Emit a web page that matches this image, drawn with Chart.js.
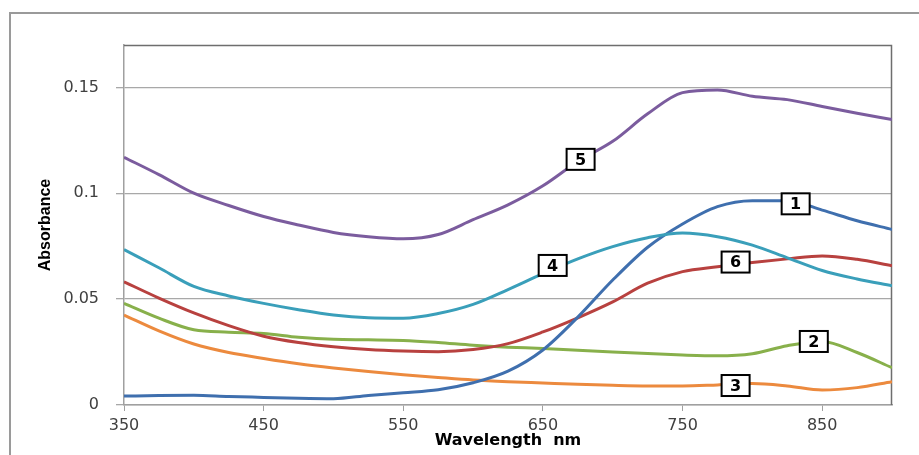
<!DOCTYPE html>
<html>
<head>
<meta charset="utf-8">
<script src="https://cdn.jsdelivr.net/npm/chart.js@4/dist/chart.umd.min.js"></script>
<style>
  html, body { margin: 0; padding: 0; background: #ffffff; }
  #wrap { width: 919px; height: 455px; position: relative; }
</style>
</head>
<body>
<div id="wrap"><canvas id="c" width="919" height="455"></canvas></div>
<script>
// ---- data ----
const wavelengths = [350,375,400,425,450,475,500,525,550,575,600,625,650,675,700,725,750,775,800,825,850,875,900];
const series1 = [0.0042,0.0045,0.0046,0.0040,0.0036,0.0032,0.0030,0.0045,0.0058,0.0072,0.0105,0.0160,0.0260,0.0415,0.0590,0.0745,0.0855,0.0937,0.0965,0.0965,0.0920,0.0870,0.0829];
const series2 = [0.0480,0.0410,0.0355,0.0344,0.0338,0.0320,0.0310,0.0308,0.0305,0.0295,0.0282,0.0273,0.0267,0.0258,0.0250,0.0243,0.0236,0.0232,0.0242,0.0280,0.0300,0.0248,0.0176];
const series3 = [0.0425,0.0350,0.0288,0.0248,0.0220,0.0195,0.0175,0.0158,0.0143,0.0130,0.0118,0.0110,0.0104,0.0098,0.0093,0.0090,0.0090,0.0095,0.0101,0.0090,0.0071,0.0082,0.0110];
const series4 = [0.0734,0.0648,0.0560,0.0515,0.0480,0.0450,0.0425,0.0412,0.0410,0.0432,0.0475,0.0545,0.0620,0.0690,0.0748,0.0790,0.0812,0.0795,0.0755,0.0695,0.0635,0.0595,0.0563];
const series5 = [0.1170,0.1088,0.1000,0.0942,0.0890,0.0850,0.0815,0.0795,0.0785,0.0805,0.0875,0.0945,0.1035,0.1150,0.1245,0.1375,0.1475,0.1488,0.1458,0.1442,0.1410,0.1378,0.1348];
const series6 = [0.0582,0.0505,0.0435,0.0375,0.0325,0.0295,0.0275,0.0262,0.0255,0.0252,0.0262,0.0290,0.0345,0.0412,0.0487,0.0575,0.0630,0.0653,0.0673,0.0690,0.0704,0.0688,0.0658];
const seriesNames = ["1","2","3","4","5","6"];
const xTickValues = [350,450,550,650,750,850];
const xTickLabels = ["350","450","550","650","750","850"];
const yTickValues = [0,0.05,0.1,0.15];
const yTickLabels = ["0","0.05","0.1","0.15"];
// label anchors (wavelength, absorbance) for the numbered boxes
const labelWavelength = [831,844,788,657,677,788];
const labelAbsorbance = [0.095,0.030,0.0092,0.0659,0.116,0.0675];

const colors = ["#3F6FAE","#88B04B","#EC8A3E","#3A9FBA","#7B5C9E","#B8413F"];
const allSeries = [series1,series2,series3,series4,series5,series6];
const order = [4,3,0,5,1,2];

const datasets = order.map(i => ({
  label: seriesNames[i],
  data: wavelengths.map((w, k) => ({x: w, y: allSeries[i][k]})),
  borderColor: colors[i],
  backgroundColor: colors[i],
  borderWidth: 3,
  pointRadius: 0,
  fill: false,
  cubicInterpolationMode: 'monotone'
}));

const framePlugin = {
  id: 'frame',
  beforeDraw(chart) {
    const ctx = chart.ctx;
    ctx.save();
    ctx.fillStyle = '#ffffff';
    ctx.fillRect(0, 0, chart.width, chart.height);
    ctx.strokeStyle = '#9a9a9a';
    ctx.lineWidth = 2;
    ctx.strokeRect(10, 13, 1000, 1000);
    ctx.restore();
  },
  beforeDatasetsDraw(chart) {
    const {ctx, chartArea: a} = chart;
    ctx.save();
    ctx.strokeStyle = '#6e6e6e';
    ctx.lineWidth = 1.5;
    ctx.beginPath();
    ctx.moveTo(a.left, a.top + 0.5);
    ctx.lineTo(a.right - 0.5, a.top + 0.5);
    ctx.lineTo(a.right - 0.5, a.bottom);
    ctx.stroke();
    ctx.restore();
  },
  afterDatasetsDraw(chart) {
    const ctx = chart.ctx;
    const xs = chart.scales.x, ys = chart.scales.y;
    ctx.save();
    for (let i = 0; i < seriesNames.length; i++) {
      const px = xs.getPixelForValue(labelWavelength[i]);
      const py = ys.getPixelForValue(labelAbsorbance[i]);
      const w = 28, h = 21;
      ctx.fillStyle = '#ffffff';
      ctx.fillRect(px - w/2, py - h/2, w, h);
      ctx.strokeStyle = '#000000';
      ctx.lineWidth = 2;
      ctx.strokeRect(px - w/2, py - h/2, w, h);
      ctx.fillStyle = '#000000';
      ctx.font = 'bold 16px "DejaVu Sans", sans-serif';
      ctx.textAlign = 'center';
      ctx.textBaseline = 'middle';
      ctx.fillText(seriesNames[i], px, py + 1);
    }
    ctx.restore();
  }
};

new Chart(document.getElementById('c'), {
  type: 'line',
  data: { datasets },
  options: {
    responsive: false,
    animation: false,
    devicePixelRatio: 1,
    layout: { padding: { left: 0, right: 27, top: 45, bottom: 0 } },
    plugins: { legend: { display: false }, tooltip: { enabled: false } },
    scales: {
      x: {
        type: 'linear',
        min: 350, max: 900,
        afterFit(s) { s.height = 50; },
        afterBuildTicks(s) { s.ticks = xTickValues.map(v => ({value: v})); },
        ticks: {
          callback: (v, i) => xTickLabels[i],
          color: '#404040',
          font: { family: '"DejaVu Sans", sans-serif', size: 16 },
          padding: 5,
          maxRotation: 0
        },
        grid: { drawOnChartArea: false, drawTicks: true, tickLength: 6, color: '#a0a0a0' },
        border: { color: '#a0a0a0', width: 1.5 },
        title: {
          display: true,
          text: 'Wavelength  nm',
          color: '#000000',
          font: { family: '"DejaVu Sans", sans-serif', size: 16, weight: 'bold' },
          padding: { top: 0, bottom: 5 }
        }
      },
      y: {
        type: 'linear',
        min: 0, max: 0.17,
        afterFit(s) { s.width = 124; },
        afterBuildTicks(s) { s.ticks = yTickValues.map(v => ({value: v})); },
        ticks: {
          callback: (v, i) => yTickLabels[i],
          color: '#404040',
          font: { family: '"DejaVu Sans", sans-serif', size: 16 },
          padding: 17
        },
        grid: { drawTicks: true, tickLength: 8, color: '#a8a8a8', lineWidth: 1.3 },
        border: { color: '#a0a0a0', width: 1.5 },
        title: {
          display: true,
          text: 'Absorbance',
          color: '#000000',
          font: { family: '"Liberation Sans Narrow", "Liberation Sans", sans-serif', size: 16, weight: 'bold' },
          padding: { top: 36, bottom: 0 }
        }
      }
    }
  },
  plugins: [framePlugin]
});
</script>
</body>
</html>
